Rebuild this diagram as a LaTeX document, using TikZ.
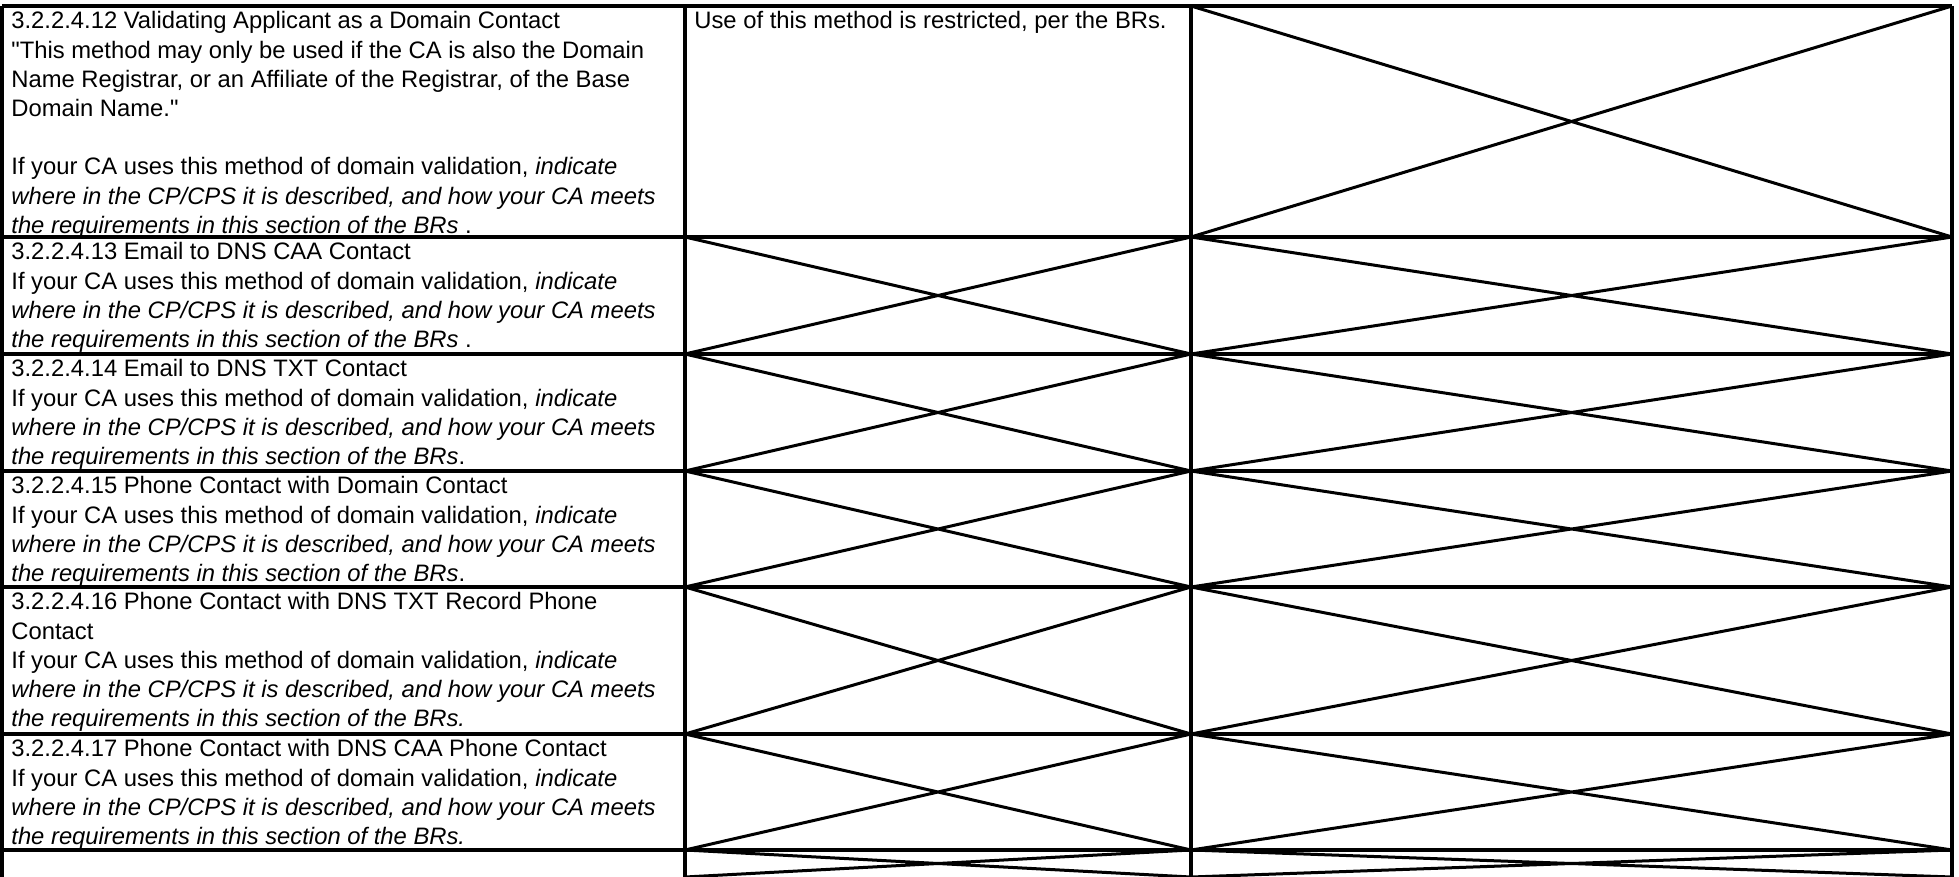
\documentclass[tikz,border=0pt]{standalone}
\usepackage{fontspec}
\setmainfont{Liberation Sans}[Ligatures=TeXOff]
\tikzset{
  cell/.style={anchor=north west, inner sep=0pt, align=left,
    font=\fontsize{11.9pt}{14.6pt}\selectfont},
  rule/.style={line width=1.8pt},
  cross/.style={line width=1.5pt}
}
\newcommand{\howmeets}[1]{If your CA uses this method of domain validation, \textit{indicate}\\
  \textit{where in the CP/CPS it is described, and how your CA meets}\\
  \textit{the requirements in this section of the BRs}#1}

\begin{document}
\begin{tikzpicture}[x=0.5pt,y=-0.5pt]
    \useasboundingbox (0,0) rectangle (1959,877);
    % set up the grid
    \draw[rule] (2,6) -- (1952,6);
    \foreach \y in {237,354,471,587,734,850}
        \draw[rule] (2,\y) -- (1952,\y);
    \foreach \x in {2,685,1191,1952}
        \draw[rule] (\x,6) -- (\x,877);
    % crossed out cells
    \draw[cross] (1191,6)--(1952,237) (1191,237)--(1952,6);
    \foreach \t/\b in {237/354,354/471,471/587,587/734,734/850,850/877}{
        \draw[cross] (685,\t)--(1191,\b) (685,\b)--(1191,\t);
        \draw[cross] (1191,\t)--(1952,\b) (1191,\b)--(1952,\t);
    }
    % the texts
    \node[cell] (A) at (11,8) {\strut 3.2.2.4.12 Validating Applicant as a Domain Contact\\
        "This method may only be used if the CA is also the Domain\\
        Name Registrar, or an Affiliate of the Registrar, of the Base\\
        Domain Name."\\
        \mbox{}\\
        \howmeets{\ .}};
    \node[cell] (B) at (694,8) {\strut Use of this method is restricted, per the BRs.};
    \node[cell] (C) at (11,239) {\strut 3.2.2.4.13 Email to DNS CAA Contact\\ \howmeets{\ .}};
    \node[cell] (D) at (11,356) {\strut 3.2.2.4.14 Email to DNS TXT Contact\\ \howmeets{.}};
    \node[cell] (E) at (11,473) {\strut 3.2.2.4.15 Phone Contact with Domain Contact\\ \howmeets{.}};
    \node[cell] (F) at (11,589) {\strut 3.2.2.4.16 Phone Contact with DNS TXT Record Phone\\
        Contact\\ \howmeets{\textit{.}}};
    \node[cell] (G) at (11,736) {\strut 3.2.2.4.17 Phone Contact with DNS CAA Phone Contact\\ \howmeets{\textit{.}}};
\end{tikzpicture}
\end{document}
